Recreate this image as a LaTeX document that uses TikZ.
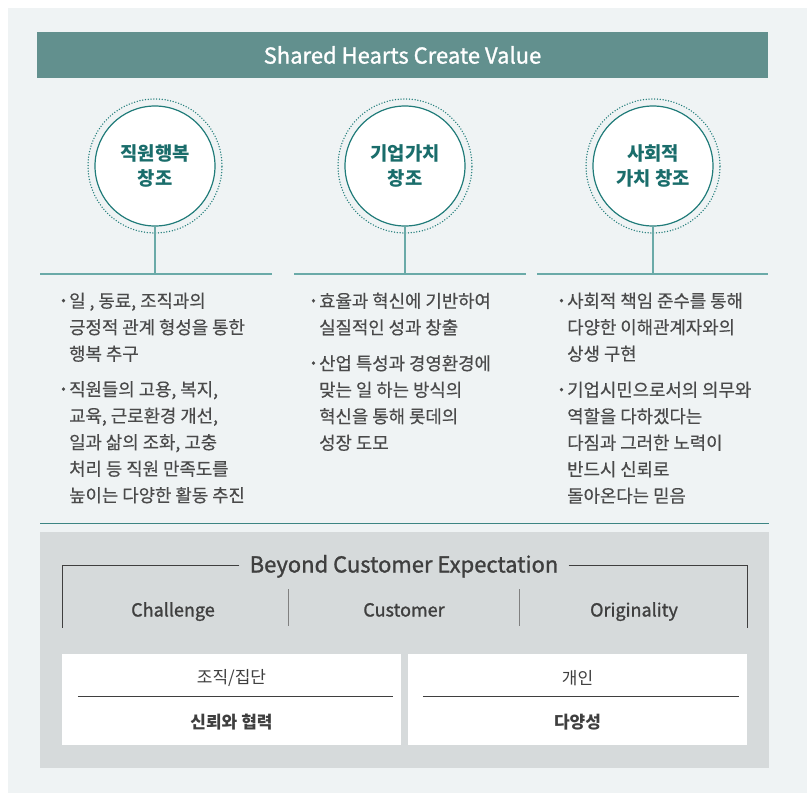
\documentclass[tikz,border=0pt]{standalone}
\usepackage{fontspec}
\setmainfont{Noto Sans CJK KR}
\newfontfamily\midfont[FakeBold=1.2]{Noto Sans CJK KR}
\newfontfamily\bodyfont[FakeBold=0.4]{Noto Sans CJK KR}
\usepackage{tikz}

\definecolor{bgpale}{HTML}{EFF3F4}
\definecolor{headteal}{HTML}{62908E}
\definecolor{ringteal}{HTML}{217C7A}
\definecolor{circtext}{HTML}{1A6D6B}
\definecolor{stemteal}{HTML}{6AAAA8}
\definecolor{septeal}{HTML}{3C8583}
\definecolor{boxgray}{HTML}{D6DADB}
\definecolor{bodygray}{HTML}{4A4A4A}
\definecolor{darkgray}{HTML}{3F3F3F}

\newcommand\itembul{\llap{\raisebox{3pt}{\fontsize{13}{13}\selectfont •}\hspace{3.5pt}}}

\begin{document}
\begin{tikzpicture}[x=1pt, y=-1pt,
  ringout/.style={circle, draw=ringteal, line width=1.5pt, dash pattern=on 0pt off 2.8pt, line cap=round, minimum size=134pt, inner sep=0pt},
  ringin/.style={circle, draw=ringteal, line width=1.2pt, fill=white, minimum size=120pt, inner sep=0pt, align=center, text=circtext, font=\fontsize{18.8}{25}\selectfont\bfseries},
  stem/.style={draw=stemteal, line width=1.5pt},
  itemtext/.style={anchor=north west, align=left, inner sep=0pt, text=bodygray, font=\fontsize{17.8}{26.5}\selectfont\bodyfont},
  colhead/.style={text=darkgray, anchor=base, font=\fontsize{18}{20}\selectfont\midfont},
  whitebox/.style={fill=white, minimum width=339pt, minimum height=91pt, inner sep=0pt},
  boxlabel/.style={text=darkgray, font=\fontsize{17}{20}\selectfont},
  boxvalue/.style={text=darkgray, font=\fontsize{17}{20}\selectfont\bfseries},
  rule/.style={draw=darkgray, line width=1pt}
]
  \useasboundingbox (0,0) rectangle (807,793);
  \fill[bgpale] (8,8) rectangle (807,793);

  \node[fill=headteal, minimum width=731pt, minimum height=46pt, text=white, font=\fontsize{22}{24}\selectfont\midfont] (title) at (402.5,55) {Shared Hearts Create Value};

  \node[ringout] (r1) at (155,166) {};
  \node[ringin] (c1) at (155,166) {직원행복\\창조};
  \node[ringout] (r2) at (405,166) {};
  \node[ringin] (c2) at (405,166) {기업가치\\창조};
  \node[ringout] (r3) at (653,166) {};
  \node[ringin] (c3) at (653,166) {사회적\\가치 창조};

  \coordinate (l1a) at (40,274);
  \coordinate (l1b) at (272,274);
  \coordinate (l2a) at (294,274);
  \coordinate (l2b) at (526,274);
  \coordinate (l3a) at (537,274);
  \coordinate (l3b) at (768,274);
  \draw[stem] (l1a) -- (l1b);
  \draw[stem] (l2a) -- (l2b);
  \draw[stem] (l3a) -- (l3b);
  \draw[stem, line width=1.2pt] (c1.south) -- (c1.south |- l1a);
  \draw[stem, line width=1.2pt] (c2.south) -- (c2.south |- l2a);
  \draw[stem, line width=1.2pt] (c3.south) -- (c3.south |- l3a);

  \node[itemtext] (i11) at (69,292.5) {\itembul 일 , 동료, 조직과의\\긍정적 관계 형성을 통한\\행복 추구};
  \node[itemtext] (i12) at (69,381) {\itembul 직원들의 고용, 복지,\\교육, 근로환경 개선,\\일과 삶의 조화, 고충\\처리 등 직원 만족도를\\높이는 다양한 활동 추진};
  \node[itemtext] (i21) at (319,292.5) {\itembul 효율과 혁신에 기반하여\\실질적인 성과 창출};
  \node[itemtext] (i22) at (319,355) {\itembul 산업 특성과 경영환경에\\맞는 일 하는 방식의\\혁신을 통해 롯데의\\성장 도모};
  \node[itemtext] (i31) at (567,292.5) {\itembul 사회적 책임 준수를 통해\\다양한 이해관계자와의\\상생 구현};
  \node[itemtext] (i32) at (567,381.5) {\itembul 기업시민으로서의 의무와\\역할을 다하겠다는\\다짐과 그러한 노력이\\반드시 신뢰로\\돌아온다는 믿음};

  \coordinate (sepl) at (40,523);
  \coordinate (sepr) at (769,523);
  \draw[septeal, line width=1pt] (sepl) -- (sepr);

  \node[fill=boxgray, minimum width=729pt, minimum height=236pt, inner sep=0pt] (gbox) at (404.5,650) {};

  \node[colhead, font=\fontsize{22}{24}\selectfont\midfont, inner xsep=10pt] (bce) at (404,572.5) {Beyond Customer Expectation};
  \coordinate (bl) at (62,628);
  \coordinate (br) at (747,628);
  \draw[rule] ([yshift=6.8pt]bce.base west) -| (bl);
  \draw[rule] ([yshift=6.8pt]bce.base east) -| (br);

  \node[colhead] (ch) at (173,616.5) {Challenge};
  \node[colhead] (cu) at (404,616.5) {Customer};
  \node[colhead] (og) at (634,616.5) {Originality};
  \coordinate (d1t) at (288,589);
  \coordinate (d1b) at (288,626);
  \coordinate (d2t) at (519,589);
  \coordinate (d2b) at (519,626);
  \draw[rule, draw=gray] (d1t) -- (d1b);
  \draw[rule, draw=gray] (d2t) -- (d2b);

  \node[whitebox] (wb1) at (231.5,699.5) {};
  \node[whitebox] (wb2) at (577.5,699.5) {};
  \node[boxlabel] (g1) at (231.5,678) {조직/집단};
  \node[boxvalue] (v1) at (231.5,722) {신뢰와 협력};
  \node[boxlabel] (g2) at (577.5,678) {개인};
  \node[boxvalue] (v2) at (577.5,722) {다양성};
  \draw[rule] ([xshift=16pt, yshift=3.2pt]wb1.west) -- ([xshift=-8pt, yshift=3.2pt]wb1.east);
  \draw[rule] ([xshift=15pt, yshift=3.2pt]wb2.west) -- ([xshift=-8pt, yshift=3.2pt]wb2.east);
\end{tikzpicture}
\end{document}
